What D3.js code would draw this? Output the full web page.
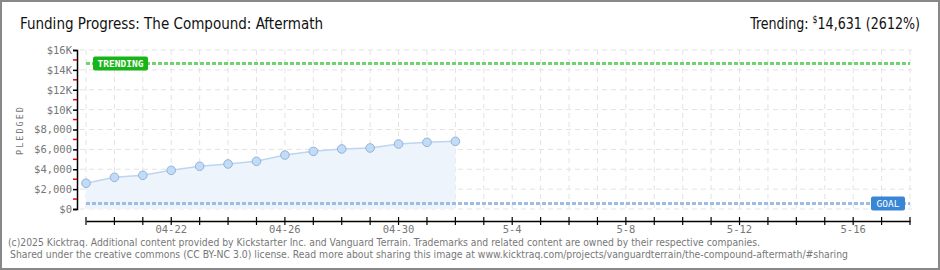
<!DOCTYPE html>
<html><head><meta charset="utf-8">
<script src="https://cdn.jsdelivr.net/npm/d3@7"></script>
<style>body{margin:0;background:#fff}svg{display:block}</style>
</head><body>
<svg id="c" width="940" height="270"></svg>
<script>
const dates = ["2025-04-19","2025-04-20","2025-04-21","2025-04-22","2025-04-23","2025-04-24","2025-04-25","2025-04-26","2025-04-27","2025-04-28","2025-04-29","2025-04-30","2025-05-01","2025-05-02"];
const pledged = [2590,3190,3390,3890,4300,4530,4800,5430,5800,6040,6140,6540,6710,6810];
const trending = 14631;
const trendingPct = "2612%";
const goal = 560;
const yTicks = [0,2000,4000,6000,8000,10000,12000,14000,16000];
const yTickLabels = ["$0","$2,000","$4,000","$6,000","$8,000","$10K","$12K","$14K","$16K"];
const xStart = "2025-04-19", xEnd = "2025-05-18";

const parse = d3.timeParse("%Y-%m-%d");
const svg = d3.select("#c");
const W=940,H=270;
svg.append("rect").attr("x",1).attr("y",1).attr("width",W-2).attr("height",H-2).attr("fill","#fff").attr("stroke","#888").attr("stroke-width",2);

const x = d3.scaleTime().domain([parse(xStart),parse(xEnd)]).range([86,910]);
const y = d3.scaleLinear().domain([0,16000]).range([209,50]);
const axisFont = "'DejaVu Sans Mono', monospace";

// grid
const days = d3.timeDay.range(parse(xStart), d3.timeDay.offset(parse(xEnd),1));
svg.append("g").selectAll("line").data(days).join("line")
  .attr("x1",d=>x(d)).attr("x2",d=>x(d)).attr("y1",50).attr("y2",212)
  .attr("stroke","#e3e3e3").attr("stroke-dasharray","5,4");
svg.append("g").selectAll("line").data(yTicks).join("line")
  .attr("x1",80).attr("x2",912).attr("y1",d=>y(d)).attr("y2",d=>y(d))
  .attr("stroke","#e3e3e3").attr("stroke-dasharray","5,4");

// area + line
const pts = dates.map((d,i)=>({d:parse(d),v:pledged[i]}));
svg.append("path").datum(pts).attr("fill","#edf4fc")
  .attr("d",d3.area().x(p=>x(p.d)).y0(y(0)).y1(p=>y(p.v)));
svg.append("path").datum(pts).attr("fill","none").attr("stroke","#bcd6f2").attr("stroke-width",1.5)
  .attr("d",d3.line().x(p=>x(p.d)).y(p=>y(p.v)));

// trending line
svg.append("line").attr("x1",86).attr("x2",910).attr("y1",y(trending)).attr("y2",y(trending))
  .attr("stroke","#6fd36f").attr("stroke-width",3).attr("stroke-dasharray","4,2");
// goal line
svg.append("line").attr("x1",86).attr("x2",910).attr("y1",y(goal)).attr("y2",y(goal))
  .attr("stroke","#9dbde3").attr("stroke-width",3).attr("stroke-dasharray","4,2");

// points
svg.append("g").selectAll("circle").data(pts).join("circle")
  .attr("cx",p=>x(p.d)).attr("cy",p=>y(p.v)).attr("r",4.3)
  .attr("fill","#c2dcf8").attr("stroke","#93b2d8").attr("stroke-width",1);

// trending label
const ty = y(trending);
svg.append("rect").attr("x",93).attr("y",ty-7).attr("width",55).attr("height",14).attr("rx",2).attr("fill","#18b418");
svg.append("text").attr("x",120.5).attr("y",ty+3.5).attr("text-anchor","middle").attr("font-family",axisFont)
  .attr("font-size",9.5).attr("font-weight","bold").attr("fill","#fff").text("TRENDING");
// goal label
const gy = y(goal);
svg.append("rect").attr("x",871).attr("y",gy-7).attr("width",34).attr("height",14).attr("rx",2).attr("fill","#3a86d6");
svg.append("text").attr("x",888).attr("y",gy+3.5).attr("text-anchor","middle").attr("font-family",axisFont)
  .attr("font-size",9.5).attr("fill","#fff").text("GOAL");

// y axis
const ya = svg.append("g").attr("transform","translate(77,0)")
  .call(d3.axisLeft(y).tickValues(yTicks).tickSize(4).tickFormat((d,i)=>yTickLabels[i]));
ya.select(".domain").attr("stroke","#000").attr("stroke-width",1.5);
ya.selectAll(".tick line").attr("stroke","#000").attr("stroke-width",1.5);
ya.selectAll("text").attr("font-family",axisFont).attr("font-size",10.5).attr("fill","#777").attr("x",-5);
const minor = d3.range(1000,16000,2000);
svg.append("g").selectAll("line").data(minor).join("line")
  .attr("x1",73).attr("x2",77).attr("y1",d=>y(d)).attr("y2",d=>y(d)).attr("stroke","#e00").attr("stroke-width",1.5);

// x axis
const xa = svg.append("g").attr("transform","translate(0,221)")
  .call(d3.axisBottom(x).tickValues(days).tickSize(0).tickFormat(""));
xa.select(".domain").attr("stroke","#000").attr("stroke-width",1.5);
svg.append("g").selectAll("line").data(days).join("line")
  .attr("x1",d=>x(d)).attr("x2",d=>x(d)).attr("y1",217).attr("y2",225).attr("stroke","#000").attr("stroke-width",1.2);
const labelDays = days.filter((d,i)=> (i-3)%4===0 && i>=3);
const fmt = d=> d.getMonth()===3 ? d3.timeFormat("%m-%d")(d) : (d.getMonth()+1)+"-"+d.getDate();
svg.append("g").selectAll("text").data(labelDays).join("text")
  .attr("x",d=>x(d)).attr("y",233).attr("text-anchor","middle").attr("font-family",axisFont)
  .attr("font-size",10.5).attr("fill","#777").text(fmt);

// y label
svg.append("text").attr("transform","translate(23,130) rotate(-90)").attr("text-anchor","middle")
  .attr("font-family",axisFont).attr("font-size",8.5).attr("letter-spacing",2).attr("fill","#777").text("PLEDGED");

// title
const tf = "'DejaVu Sans Condensed','DejaVu Sans',sans-serif";
svg.append("text").attr("x",20).attr("y",29).attr("font-family",tf)
  .attr("font-size",16).attr("fill","#111").attr("textLength",303).attr("lengthAdjust","spacingAndGlyphs")
  .text("Funding Progress: The Compound: Aftermath");
const tr = svg.append("text").attr("transform","translate(920,29) scale(0.88,1)").attr("text-anchor","end")
  .attr("font-family",tf).attr("font-size",16).attr("fill","#111");
tr.append("tspan").text("Trending:  ");
tr.append("tspan").attr("font-size",10).attr("dy",-6).text("$");
tr.append("tspan").attr("dy",6).text(d3.format(",")(trending)+" ("+trendingPct+")");

// footer
const ff = "'DejaVu Sans',sans-serif";
svg.append("text").attr("x",8).attr("y",246).attr("font-family",ff).attr("font-size",9.6).attr("fill","#777")
  .attr("textLength",752).attr("lengthAdjust","spacingAndGlyphs")
  .text("(c)2025 Kicktraq. Additional content provided by Kickstarter Inc. and Vanguard Terrain. Trademarks and related content are owned by their respective companies.");
svg.append("text").attr("x",10).attr("y",258).attr("font-family",ff).attr("font-size",9.6).attr("fill","#777")
  .attr("textLength",838).attr("lengthAdjust","spacingAndGlyphs")
  .text("Shared under the creative commons (CC BY-NC 3.0) license. Read more about sharing this image at www.kicktraq.com/projects/vanguardterrain/the-compound-aftermath/#sharing");
</script>
</body></html>
